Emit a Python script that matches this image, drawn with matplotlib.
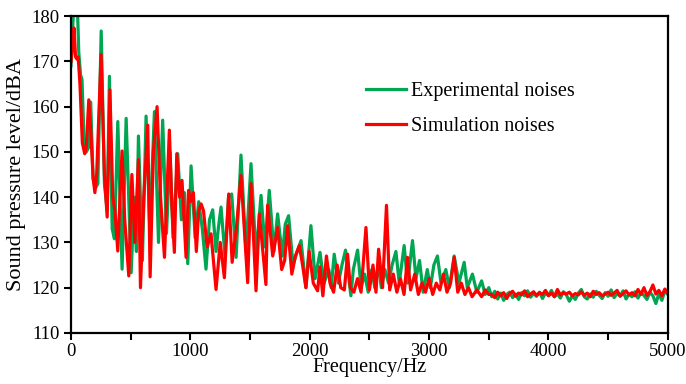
import numpy as np
import matplotlib
matplotlib.use("Agg")
import matplotlib.pyplot as plt

plt.rcParams['font.family'] = ['Liberation Serif', 'DejaVu Serif']
plt.rcParams['font.size'] = 14.5

# peak / trough points (Hz, dBA)
exp_freq_low = [0, 12, 22, 40, 55, 65, 80, 92, 110, 128, 148, 165, 185, 205, 225, 253, 280, 303, 322, 345,
                364, 392, 428, 462, 504, 530, 548, 565, 598, 629, 660, 699, 733, 768, 800, 830, 855, 894, 925, 950,
                978, 1006, 1040, 1070, 1100, 1131, 1160, 1187, 1215, 1235, 1257, 1290, 1320, 1346, 1383, 1424, 1466,
                1508, 1550, 1592, 1625, 1661, 1700, 1731, 1770, 1795, 1823, 1860, 1895, 1927, 1968, 2010, 2045, 2086,
                2120, 2160, 2180, 2205, 2240, 2270, 2300, 2345, 2365, 2401, 2430, 2460, 2490, 2520, 2545, 2575, 2600,
                2630, 2660, 2690, 2722, 2750, 2791, 2820, 2861, 2890, 2920, 2950, 2985, 3010, 3040, 3070, 3100, 3140,
                3170, 3210, 3250, 3294, 3320, 3363, 3400, 3440, 3470, 3500]
exp_spl_low = [169, 176, 182, 183, 181, 172, 167, 166, 152, 150, 151, 161, 144, 142, 143, 176.7, 143, 137, 166.7, 133,
               130.8, 156.7, 124.1, 157.4, 123.3, 140, 128, 153.5, 126, 157.9, 133, 158.9, 130, 157, 132, 150, 131, 149.6, 135, 141,
               125.3, 146.9, 131, 139, 133, 124.1, 135, 137.2, 128, 133.3, 137.8, 127, 140, 140.7, 126.7, 149.3, 128,
               147.4, 127, 140.4, 129, 141.5, 128, 136.3, 127, 134, 135.9, 125, 128, 130.4, 120, 133.7, 122, 127.8,
               121, 124, 120, 127.4, 121, 125, 128.3, 118.2, 124, 128.3, 120, 123, 119, 124, 120, 125, 120,
               124, 121, 125, 128, 121, 129.3, 121, 130.4, 122, 126, 119, 124, 120, 125, 127, 121, 124,
               120, 127, 121, 125.6, 120, 123, 119, 121.5, 118.5, 120]

sim_freq_low = [0, 12, 25, 38, 50, 60, 75, 95, 115, 128, 149, 165, 185, 200, 215, 252, 280, 303, 326, 350,
                368, 392, 410, 428, 450, 484, 510, 535, 565, 582, 610, 643, 663, 690, 721, 750, 783, 824, 845, 866,
                886, 910, 930, 964, 985, 1000, 1025, 1050, 1070, 1090, 1110, 1140, 1173, 1215, 1250, 1285, 1321, 1350,
                1385, 1424, 1480, 1508, 1550, 1578, 1633, 1647, 1690, 1731, 1765, 1790, 1815, 1850, 1880, 1913, 1940,
                1968, 1995, 2030, 2066, 2086, 2110, 2140, 2170, 2200, 2230, 2260, 2290, 2317, 2340, 2370, 2400, 2430,
                2471, 2500, 2530, 2555, 2577, 2610, 2643, 2670, 2700, 2730, 2760, 2790, 2819, 2845, 2880, 2910, 2940,
                2970, 3000, 3030, 3060, 3090, 3120, 3150, 3180, 3210, 3240, 3270, 3300, 3330, 3360, 3400, 3440, 3470, 3500]
sim_spl_low = [170, 173, 177.4, 171, 170.5, 171, 165, 152, 149.6, 151, 161.5, 155, 144.4, 141, 145, 171.5, 145, 135.6, 163.7, 140,
               137, 128.1, 140, 150.2, 135, 122.6, 145, 130, 148.3, 120, 140, 155.9, 122.4, 150, 160, 140, 126.7, 154.8, 138, 127.8,
               149.6, 140, 143.7, 126.7, 141.5, 139, 141, 128, 137, 138.5, 137, 129, 131.9, 119.6, 130, 122.2, 140.7, 125.6,
               133, 144.8, 121.1, 143, 119.3, 136.3, 120.7, 138.2, 127, 133.3, 124, 126, 133.7, 123, 127, 129.3, 125,
               120, 128, 121, 119.3, 124.6, 118.2, 127, 121, 119, 125, 120, 119.5, 127.4, 120, 119, 122, 119,
               133.3, 119.5, 125, 119, 128.5, 120, 138.2, 119.5, 123, 119, 122, 118.5, 126.7, 119.5, 123, 118.5, 121,
               119, 122, 118.5, 121, 119.5, 123, 119, 121, 126.7, 119, 121, 118.5, 120, 118, 119.5, 118, 119.5, 118.5]

# flat tail above 3500 Hz, every 25 Hz
tail_freq = list(range(3525, 5001, 25))
exp_spl_tail = [118.0, 119.2, 117.5, 118.8, 117.2, 118.5, 119.0, 117.8, 118.6, 117.4, 118.9, 118.2, 119.3, 117.9, 118.7,
                118.1, 119.0, 117.6, 118.8, 118.3, 119.4, 118.0, 118.6, 117.7, 119.1, 118.4, 117.0, 118.2, 117.4, 118.8,
                119.6, 118.0, 117.5, 118.6, 117.9, 119.2, 118.3, 117.6, 118.9, 118.1, 119.5, 117.8, 118.7, 118.2, 119.3,
                117.5, 118.6, 118.0, 119.1, 117.7, 118.9, 118.3, 117.4, 119.0, 118.2, 116.5, 118.7, 117.2, 119.3, 118.5]
sim_spl_tail = [118.5, 117.8, 119.0, 118.2, 118.9, 117.6, 118.7, 119.2, 118.1, 118.8, 118.4, 119.3, 118.0, 118.6, 119.1,
                118.3, 118.9, 118.5, 119.4, 118.2, 118.8, 118.0, 119.6, 118.4, 118.9, 118.6, 119.0, 118.2, 118.7, 118.4,
                119.1, 118.3, 118.8, 118.0, 119.2, 118.5, 118.9, 118.2, 118.6, 119.0, 118.3, 118.8, 119.4, 118.1, 118.7,
                119.3, 118.4, 118.9, 118.2, 119.6, 118.5, 120.0, 118.3, 119.1, 120.6, 118.6, 119.4, 118.2, 119.7, 118.8]

exp_freq = exp_freq_low + tail_freq
exp_spl = exp_spl_low + exp_spl_tail
sim_freq = sim_freq_low + tail_freq
sim_spl = sim_spl_low + sim_spl_tail

fig = plt.figure(figsize=(6.86, 3.84), dpi=100)
ax = fig.add_axes([0.1035, 0.133, 0.8700, 0.825])

ax.plot(exp_freq, exp_spl, color='#00a651', lw=2.3, label='Experimental noises', solid_joinstyle='round')
ax.plot(sim_freq, sim_spl, color='#ff0000', lw=2.3, label='Simulation noises', solid_joinstyle='round')

ax.set_xlim(0, 5000)
ax.set_ylim(110, 180)
ax.set_xticks(np.arange(0, 5001, 1000))
ax.set_xticks(np.arange(0, 5001, 500), minor=True)
ax.set_yticks(np.arange(110, 181, 10))
ax.tick_params(which='both', direction='out', width=1.5, length=5, color='black', labelsize=13.5)
ax.tick_params(axis='y', pad=3)
ax.tick_params(axis='x', pad=2)
for s in ax.spines.values():
    s.set_linewidth(1.6)

ax.set_xlabel('Frequency/Hz', labelpad=-1)
ax.set_ylabel('Sound pressure level/dBA', fontsize=16, labelpad=4)

ax.legend(loc='upper left', bbox_to_anchor=(0.477, 0.825), frameon=False, handlelength=2.0,
          handletextpad=0.25, labelspacing=0.8, borderpad=0)

fig.savefig('out.png', dpi=100)
